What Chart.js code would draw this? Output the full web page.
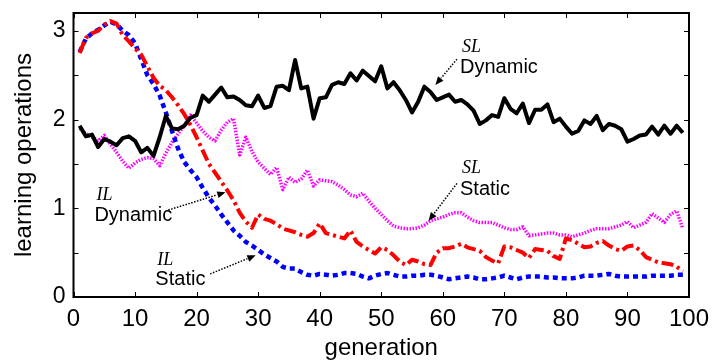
<!DOCTYPE html>
<html>
<head>
<meta charset="utf-8">
<script src="https://cdn.jsdelivr.net/npm/chart.js@4.4.1/dist/chart.umd.min.js"></script>
<style>
  html, body { margin: 0; padding: 0; background: #fff; }
  canvas { display: block; }
</style>
</head>
<body>
<canvas id="chart" width="715" height="363"></canvas>
<script>
// --- data ---
const generations = Array.from({ length: 99 }, (_, i) => i + 1);
const xTickValues = [0, 10, 20, 30, 40, 50, 60, 70, 80, 90, 100];
const yTickValues = [0, 0.5, 1, 1.5, 2, 2.5, 3];

const slDynamic = [
  1.93, 1.81, 1.83, 1.69, 1.78, 1.75, 1.71, 1.79, 1.81, 1.76,
  1.63, 1.68, 1.59, 1.80, 2.04, 1.90, 1.89, 1.93, 2.02, 2.05,
  2.27, 2.20, 2.28, 2.36, 2.25, 2.26, 2.22, 2.16, 2.15, 2.27,
  2.13, 2.15, 2.37, 2.38, 2.33, 2.67, 2.35, 2.37, 2.01, 2.24,
  2.25, 2.39, 2.42, 2.40, 2.52, 2.44, 2.55, 2.49, 2.43, 2.60,
  2.35, 2.42, 2.33, 2.22, 2.08, 2.20, 2.37, 2.31, 2.22, 2.25,
  2.28, 2.20, 2.22, 2.17, 2.10, 1.95, 1.99, 2.05, 2.03, 2.24,
  2.12, 2.07, 2.18, 1.96, 2.11, 2.11, 2.17, 1.97, 2.01, 1.92,
  1.84, 1.87, 1.99, 1.95, 2.04, 1.88, 1.95, 1.93, 1.89, 1.75,
  1.78, 1.82, 1.83, 1.92, 1.83, 1.93, 1.84, 1.93, 1.85
];
const slStatic = [
  1.90, 1.84, 1.80, 1.76, 1.82, 1.72, 1.63, 1.53, 1.45, 1.51,
  1.55, 1.57, 1.56, 1.48, 1.62, 1.74, 1.84, 1.93, 2.05, 1.96,
  1.87, 1.80, 1.76, 1.88, 1.97, 2.01, 1.60, 1.80, 1.64, 1.52,
  1.45, 1.38, 1.46, 1.21, 1.35, 1.29, 1.33, 1.43, 1.25, 1.32,
  1.31, 1.30, 1.26, 1.21, 1.15, 1.13, 1.17, 1.08, 1.00, 0.93,
  0.86, 0.80, 0.78, 0.77, 0.77, 0.78, 0.81, 0.86, 0.88, 0.90,
  0.93, 0.95, 0.95, 0.90, 0.86, 0.84, 0.84, 0.84, 0.81, 0.78,
  0.76, 0.76, 0.79, 0.69, 0.70, 0.71, 0.72, 0.72, 0.70, 0.70,
  0.68, 0.70, 0.72, 0.75, 0.77, 0.77, 0.77, 0.79, 0.81, 0.85,
  0.78, 0.81, 0.84, 0.94, 0.89, 0.84, 0.93, 0.97, 0.77
];
const ilDynamic = [
  2.75, 2.92, 2.97, 3.00, 3.07, 3.11, 3.08, 2.95, 2.88, 2.80,
  2.73, 2.60, 2.47, 2.38, 2.33, 2.25, 2.16, 2.06, 1.94, 1.80,
  1.65, 1.50, 1.40, 1.30, 1.20, 1.09, 0.95, 0.85, 0.78, 0.93,
  0.88, 0.86, 0.82, 0.77, 0.75, 0.73, 0.70, 0.68, 0.72, 0.83,
  0.72, 0.70, 0.68, 0.66, 0.75, 0.62, 0.57, 0.53, 0.49, 0.56,
  0.53, 0.47, 0.40, 0.36, 0.42, 0.40, 0.37, 0.36, 0.50, 0.55,
  0.55, 0.57, 0.60, 0.56, 0.54, 0.52, 0.45, 0.41, 0.38, 0.57,
  0.56, 0.53, 0.50, 0.44, 0.54, 0.53, 0.52, 0.46, 0.43, 0.66,
  0.64, 0.60, 0.56, 0.57, 0.61, 0.63, 0.58, 0.54, 0.52, 0.57,
  0.58, 0.53, 0.45, 0.42, 0.39, 0.38, 0.37, 0.34, 0.29
];
const ilStatic = [
  2.76, 2.91, 2.97, 3.01, 3.06, 3.10, 3.07, 3.00, 2.95, 2.86,
  2.68, 2.50, 2.40, 2.27, 2.08, 1.87, 1.67, 1.52, 1.43, 1.35,
  1.23, 1.12, 1.03, 0.93, 0.84, 0.75, 0.69, 0.62, 0.58, 0.53,
  0.48, 0.44, 0.40, 0.34, 0.32, 0.32, 0.28, 0.25, 0.24, 0.26,
  0.25, 0.24, 0.25, 0.27, 0.27, 0.26, 0.23, 0.21, 0.24, 0.26,
  0.27, 0.25, 0.23, 0.23, 0.24, 0.24, 0.25, 0.25, 0.24, 0.22,
  0.20, 0.21, 0.22, 0.23, 0.22, 0.20, 0.20, 0.21, 0.22, 0.24,
  0.22, 0.20, 0.22, 0.23, 0.23, 0.23, 0.22, 0.22, 0.21, 0.21,
  0.21, 0.22, 0.24, 0.24, 0.24, 0.25, 0.26, 0.24, 0.23, 0.23,
  0.23, 0.23, 0.23, 0.24, 0.24, 0.24, 0.24, 0.25, 0.25
];

// labels with arrows, placed in data units
const annotations = [
  { tag: 'SL', name: 'Dynamic', x: 62.8, tagY: 2.81, nameY: 2.59, from: [62.3, 2.68], to: [58.8, 2.39] },
  { tag: 'SL', name: 'Static', x: 62.8, tagY: 1.45, nameY: 1.21, from: [62.3, 1.28], to: [57.7, 0.86] },
  { tag: 'IL', name: 'Dynamic', x: 3.4, tagY: 1.15, nameY: 0.92, from: [15.4, 0.98], to: [24.7, 1.18] },
  { tag: 'IL', name: 'Static', x: 13.3, tagY: 0.41, nameY: 0.20, from: [22.2, 0.26], to: [29.6, 0.47] }
];

const FONT = "'Liberation Sans', Arial, sans-serif";

function points(values) {
  return values.map((v, i) => ({ x: generations[i], y: v }));
}

// box, inward ticks and the arrow labels
const framePlugin = {
  id: 'frame',
  afterDraw(chart) {
    const { ctx, chartArea: a, scales: { x, y } } = chart;
    ctx.save();
    ctx.strokeStyle = '#000';
    ctx.lineWidth = 1;
    const tl = 5;
    ctx.beginPath();
    xTickValues.forEach(v => {
      const px = Math.round(x.getPixelForValue(v)) + 0.5;
      ctx.moveTo(px, a.bottom); ctx.lineTo(px, a.bottom - tl);
      ctx.moveTo(px, a.top); ctx.lineTo(px, a.top + tl);
    });
    yTickValues.forEach(v => {
      const py = Math.round(y.getPixelForValue(v)) + 0.5;
      ctx.moveTo(a.left, py); ctx.lineTo(a.left + tl, py);
      ctx.moveTo(a.right, py); ctx.lineTo(a.right - tl, py);
    });
    ctx.stroke();
    ctx.lineWidth = 2;
    ctx.strokeRect(a.left, a.top, a.right - a.left, a.bottom - a.top);

    annotations.forEach(an => {
      ctx.fillStyle = '#000';
      ctx.textBaseline = 'middle';
      ctx.textAlign = 'left';
      ctx.font = "italic 18px 'Liberation Serif', 'Times New Roman', serif";
      ctx.fillText(an.tag, x.getPixelForValue(an.x) + 2, y.getPixelForValue(an.tagY));
      ctx.font = '20px ' + FONT;
      ctx.fillText(an.name, x.getPixelForValue(an.x), y.getPixelForValue(an.nameY));

      const x0 = x.getPixelForValue(an.from[0]), y0 = y.getPixelForValue(an.from[1]);
      const x1 = x.getPixelForValue(an.to[0]), y1 = y.getPixelForValue(an.to[1]);
      const ang = Math.atan2(y1 - y0, x1 - x0);
      const head = 9;
      ctx.setLineDash([1.5, 1.5]);
      ctx.lineWidth = 1.5;
      ctx.beginPath();
      ctx.moveTo(x0, y0);
      ctx.lineTo(x1 - Math.cos(ang) * head, y1 - Math.sin(ang) * head);
      ctx.stroke();
      ctx.setLineDash([]);
      ctx.beginPath();
      ctx.moveTo(x1, y1);
      ctx.lineTo(x1 - head * Math.cos(ang - 0.4), y1 - head * Math.sin(ang - 0.4));
      ctx.lineTo(x1 - head * Math.cos(ang + 0.4), y1 - head * Math.sin(ang + 0.4));
      ctx.closePath();
      ctx.fill();
    });
    ctx.restore();
  }
};

new Chart(document.getElementById('chart'), {
  type: 'line',
  data: {
    datasets: [
      { label: 'SL Dynamic', data: points(slDynamic), borderColor: '#000000', borderWidth: 4, order: 1 },
      { label: 'IL Dynamic', data: points(ilDynamic), borderColor: '#ff0000', borderWidth: 4, borderDash: [12, 4, 3, 4], order: 2 },
      { label: 'IL Static', data: points(ilStatic), borderColor: '#0000ff', borderWidth: 4.5, borderDash: [5, 4], order: 3 },
      { label: 'SL Static', data: points(slStatic), borderColor: '#ff00ff', borderWidth: 3.5, borderDash: [1.5, 1.5], order: 4 }
    ]
  },
  options: {
    responsive: false,
    animation: false,
    devicePixelRatio: 1,
    layout: { padding: { top: 13, right: 26, left: 0, bottom: 0 } },
    elements: {
      point: { radius: 0, hoverRadius: 0 },
      line: { tension: 0, fill: false, borderJoinStyle: 'round', borderCapStyle: 'butt' }
    },
    plugins: { legend: { display: false }, tooltip: { enabled: false } },
    scales: {
      x: {
        type: 'linear', min: 0, max: 100,
        grid: { display: false, drawTicks: false },
        border: { display: false },
        afterBuildTicks: s => { s.ticks = xTickValues.map(v => ({ value: v })); },
        afterFit: s => { s.height = 66; s.paddingLeft = 0; s.paddingRight = 0; },
        ticks: { color: '#000', font: { family: FONT, size: 24 }, padding: 8, maxRotation: 0 },
        title: { display: true, text: 'generation', color: '#000', font: { family: FONT, size: 24 }, padding: { top: 0, bottom: 0 } }
      },
      y: {
        type: 'linear', min: 0, max: 3.2,
        grid: { display: false, drawTicks: false },
        border: { display: false },
        afterBuildTicks: s => { s.ticks = yTickValues.map(v => ({ value: v })); },
        afterFit: s => { s.width = 73.5; s.paddingTop = 0; s.paddingBottom = 0; },
        ticks: {
          color: '#000', font: { family: FONT, size: 23 }, padding: 8,
          callback: v => Number.isInteger(v) ? String(v) : ''
        },
        title: { display: true, text: 'learning operations', color: '#000', font: { family: FONT, size: 24 }, padding: { top: 10, bottom: 0 } }
      }
    }
  },
  plugins: [framePlugin]
});
</script>
</body>
</html>
